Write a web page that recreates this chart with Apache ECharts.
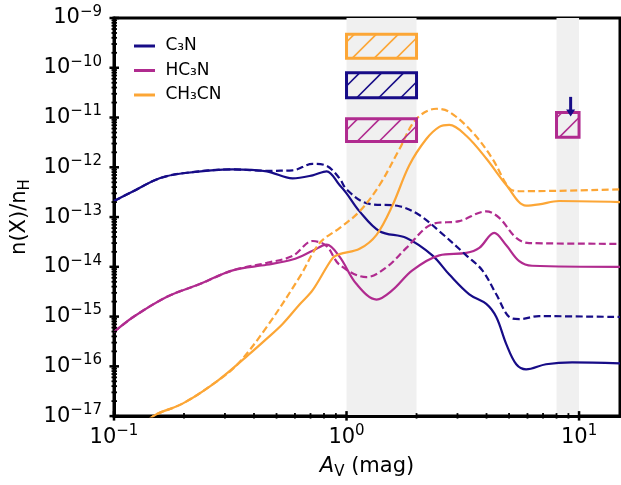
<!DOCTYPE html>
<html>
<head>
<meta charset="utf-8">
<script src="https://cdn.jsdelivr.net/npm/echarts@6/dist/echarts.min.js"></script>
<style>html,body{margin:0;padding:0;background:#fff;}</style>
</head>
<body>
<div id="main" style="width:621px;height:485px;"></div>
<script>
// abundances vs visual extinction, solid = model A, dashed = model B
var c3nAvA = [0.1, 0.121, 0.157, 0.198, 0.324, 0.454, 0.586, 0.715, 0.821, 0.933, 1.0, 1.138, 1.387, 1.81, 2.339, 2.767, 3.373, 3.99, 4.406, 4.864, 5.37, 5.92, 7.21, 9.33, 15];
var c3nA = [2.1e-13, 3.3e-13, 6.0e-13, 7.6e-13, 9.1e-13, 8.3e-13, 6.0e-13, 6.9e-13, 8.3e-13, 4.4e-13, 3.0e-13, 1.3e-13, 5.2e-14, 3.8e-14, 1.7e-14, 7.0e-15, 2.8e-15, 1.8e-15, 9.8e-16, 2.8e-16, 1.1e-16, 8.7e-17, 1.1e-16, 1.2e-16, 1.15e-16];
var c3nAvB = [0.1, 0.121, 0.157, 0.198, 0.324, 0.454, 0.586, 0.715, 0.821, 0.933, 1.0, 1.219, 1.687, 2.056, 2.506, 3.273, 3.837, 4.406, 5.01, 5.53, 6.73, 15];
var c3nB = [2.1e-13, 3.3e-13, 6.0e-13, 7.6e-13, 9.1e-13, 8.5e-13, 8.7e-13, 1.17e-12, 1.07e-12, 6.0e-13, 3.6e-13, 1.9e-13, 1.65e-13, 1.1e-13, 5.2e-14, 1.7e-14, 8.5e-15, 2.8e-15, 9.8e-16, 8.9e-16, 1.02e-15, 9.8e-16];

var hc3nAvA = [0.1, 0.121, 0.169, 0.234, 0.324, 0.454, 0.586, 0.715, 0.821, 0.933, 1.104, 1.346, 1.575, 1.919, 2.506, 3.273, 3.724, 4.315, 4.864, 5.53, 6.28, 15];
var hc3nA = [4.9e-16, 9.8e-16, 2.5e-15, 4.5e-15, 8.5e-15, 1.1e-14, 1.4e-14, 2.1e-14, 2.8e-14, 1.6e-14, 4.5e-15, 2.2e-15, 3.4e-15, 8.5e-15, 1.7e-14, 1.9e-14, 2.4e-14, 4.8e-14, 2.7e-14, 1.3e-14, 1.05e-14, 1.0e-14];
var hc3nAvB = [0.1, 0.121, 0.169, 0.234, 0.324, 0.454, 0.586, 0.715, 0.821, 0.933, 1.219, 1.486, 1.81, 2.339, 3.055, 3.99, 4.54, 5.37, 6.1, 15];
var hc3nB = [4.9e-16, 9.8e-16, 2.5e-15, 4.5e-15, 8.5e-15, 1.2e-14, 1.65e-14, 3.3e-14, 2.6e-14, 1.1e-14, 6.2e-15, 9.8e-15, 2.4e-14, 7.2e-14, 8.3e-14, 1.3e-13, 9.6e-14, 3.8e-14, 3.0e-14, 2.9e-14];

var ch3cnAvA = [0.14, 0.153, 0.198, 0.277, 0.384, 0.454, 0.531, 0.628, 0.715, 0.871, 0.933, 1.138, 1.346, 1.575, 1.862, 2.203, 2.506, 2.767, 3.273, 3.99, 4.864, 5.92, 6.73, 8.2, 15];
var ch3cnA = [8.3e-18, 1.1e-17, 1.8e-17, 5.0e-17, 1.8e-16, 3.6e-16, 7.1e-16, 1.75e-15, 3.4e-15, 1.5e-14, 1.8e-14, 2.3e-14, 4.4e-14, 1.7e-13, 1.1e-12, 3.7e-12, 6.5e-12, 7.1e-12, 4.3e-12, 1.5e-12, 4.4e-13, 1.7e-13, 1.8e-13, 2.1e-13, 2.0e-13];
var ch3cnAvB = [0.14, 0.153, 0.198, 0.277, 0.34, 0.454, 0.628, 0.766, 0.933, 1.138, 1.387, 1.687, 1.995, 2.432, 2.767, 3.475, 4.236, 5.01, 5.53, 15];
var ch3cnB = [8.3e-18, 1.1e-17, 1.8e-17, 5.0e-17, 1.1e-16, 6.2e-16, 6.2e-15, 3.0e-14, 6.0e-14, 1.3e-13, 4.4e-13, 2.3e-12, 9.3e-12, 1.5e-11, 1.3e-11, 5.1e-12, 1.5e-12, 3.8e-13, 3.3e-13, 3.6e-13];

// observed ranges (hatched boxes) and the upper limit arrow
var obsAvLow = [1, 1, 1, 8];
var obsAvHigh = [2, 2, 2, 10];
var obsLow = [1.56e-10, 2.5e-11, 3.3e-12, 4.0e-12];
var obsHigh = [4.7e-10, 7.9e-11, 9.5e-12, 1.26e-11];
var obsSpecies = [2, 0, 1, 1];
var limitAv = [9.2];
var limitFrom = [2.6e-11];
var limitTo = [1.05e-11];

var shadeAvLow = [1, 8];
var shadeAvHigh = [2, 10];

var speciesNames = ['C\u2083N', 'HC\u2083N', 'CH\u2083CN'];
var speciesColors = ['#170c87', '#b02b8f', '#fca636'];

var xTicks = [0.1, 1, 10];
var yTicks = [1e-17, 1e-16, 1e-15, 1e-14, 1e-13, 1e-12, 1e-11, 1e-10, 1e-9];

var xMinor = [];
[0.1, 1].forEach(function (d) { for (var k = 2; k <= 9; k++) xMinor.push(k * d); });
var yMinor = [];
for (var e = -17; e < -9; e++) { for (var k = 2; k <= 9; k++) yMinor.push(k * Math.pow(10, e)); }

var font = 'DejaVu Sans';
function pairs(xs, ys) { return xs.map(function (x, i) { return [x, ys[i]]; }); }
function powLabel(v) {
    var e = Math.round(Math.log10(v));
    return '{b|10}{s|' + (e < 0 ? '\u2212' + (-e) : e) + '}';
}
var tickRich = {
    b: { fontSize: 21, lineHeight: 27, fontFamily: font, color: '#000' },
    s: { fontSize: 15, lineHeight: 15, verticalAlign: 'top', fontFamily: font, color: '#000' }
};

var myChart = echarts.init(document.getElementById('main'));

var xMain = {
    type: 'log', logBase: 10, min: 0.1, max: 15, position: 'bottom',
    axisLine: { show: true, lineStyle: { color: '#000', width: 3 } },
    axisTick: { show: false },
    axisLabel: { customValues: xTicks, formatter: powLabel, margin: 8, rich: tickRich },
    splitLine: { show: false },
    name: '{i|A}{v|V} (mag)', nameLocation: 'middle', nameGap: 33,
    nameTextStyle: { rich: {
        i: { fontSize: 21, fontStyle: 'italic', fontFamily: font, color: '#000', lineHeight: 27 },
        v: { fontSize: 15, fontFamily: font, color: '#000', lineHeight: 15, verticalAlign: 'bottom' }
    }, fontSize: 21, fontFamily: font, color: '#000', lineHeight: 27 }
};
var yMain = {
    type: 'log', logBase: 10, min: 1e-17, max: 1e-9, position: 'left',
    axisLine: { show: true, lineStyle: { color: '#000', width: 3 } },
    axisTick: { show: false },
    axisLabel: { customValues: yTicks, formatter: powLabel, margin: 12, rich: tickRich },
    splitLine: { show: false },
    name: '{n|n(X)/n}{h|H}', nameLocation: 'middle', nameGap: 80, nameRotate: 90,
    nameTextStyle: { rich: {
        n: { fontSize: 21, fontFamily: font, color: '#000', lineHeight: 27 },
        h: { fontSize: 15, fontFamily: font, color: '#000', lineHeight: 15, verticalAlign: 'bottom' }
    } }
};

function lineSeries(name, xs, ys, species, dashed) {
    return {
        type: 'line', name: name, data: pairs(xs, ys),
        symbol: 'none', smooth: 0.35, clip: true, z: dashed ? 4 : 3,
        lineStyle: { color: speciesColors[species], width: 2.2, type: dashed ? [7, 3.5] : 'solid' },
        itemStyle: { color: speciesColors[species] }
    };
}

function renderObs(params, api) {
    var p0 = api.coord([api.value(0), api.value(3)]);
    var p1 = api.coord([api.value(1), api.value(2)]);
    var x0 = p0[0], y0 = p0[1], w = p1[0] - p0[0], h = p1[1] - p0[1];
    var color = speciesColors[obsSpecies[params.dataIndex]];
    var kids = [];
    var step = 22, phase = 14.5;
    var kStart = Math.ceil((x0 + y0 - phase) / step), kEnd = Math.floor((x0 + w + y0 + h - phase) / step);
    for (var k = kStart; k <= kEnd; k++) {
        var K = k * step + phase;
        var xa = Math.max(x0, K - y0 - h), xb = Math.min(x0 + w, K - y0);
        if (xb - xa < 0.5) continue;
        kids.push({ type: 'line', shape: { x1: xa, y1: K - xa, x2: xb, y2: K - xb },
            style: { stroke: color, lineWidth: 1.6 } });
    }
    kids.push({ type: 'rect', shape: { x: x0, y: y0, width: w, height: h },
        style: { fill: null, stroke: color, lineWidth: 3 } });
    return { type: 'group', children: kids };
}

function renderLimit(params, api) {
    var a = api.coord([api.value(0), api.value(1)]);
    var b = api.coord([api.value(0), api.value(2)]);
    var c = speciesColors[0];
    return { type: 'group', children: [
        { type: 'line', shape: { x1: a[0], y1: a[1], x2: b[0], y2: b[1] - 6 }, style: { stroke: c, lineWidth: 3 } },
        { type: 'polygon', shape: { points: [[b[0] - 4.5, b[1] - 7], [b[0] + 4.5, b[1] - 7], [b[0], b[1]]] }, style: { fill: c } }
    ] };
}

var series = [
    {
        type: 'custom', name: 'shade', z: 0, silent: true,
        data: pairs(shadeAvLow, shadeAvHigh),
        renderItem: function (params, api) {
            var a = api.coord([api.value(0), 1e-9]);
            var b = api.coord([api.value(1), 1e-17]);
            return { type: 'rect', shape: { x: a[0], y: a[1], width: b[0] - a[0], height: b[1] - a[1] },
                style: { fill: '#f0f0f0' } };
        }
    },
    lineSeries(speciesNames[0], c3nAvA, c3nA, 0, false),
    lineSeries(speciesNames[1], hc3nAvA, hc3nA, 1, false),
    lineSeries(speciesNames[2], ch3cnAvA, ch3cnA, 2, false),
    lineSeries(speciesNames[0] + ' B', c3nAvB, c3nB, 0, true),
    lineSeries(speciesNames[1] + ' B', hc3nAvB, hc3nB, 1, true),
    lineSeries(speciesNames[2] + ' B', ch3cnAvB, ch3cnB, 2, true),
    {
        type: 'custom', name: 'obs', z: 5, silent: true,
        data: obsAvLow.map(function (v, i) { return [v, obsAvHigh[i], obsLow[i], obsHigh[i]]; }),
        renderItem: renderObs
    },
    {
        type: 'custom', name: 'limit', z: 6, silent: true,
        data: limitAv.map(function (v, i) { return [v, limitFrom[i], limitTo[i]]; }),
        renderItem: renderLimit
    }
];

var option = {
    animation: false,
    backgroundColor: '#fff',
    grid: { left: 114, right: 1, top: 18, bottom: 65, show: true, borderColor: '#000', borderWidth: 3, backgroundColor: 'transparent' },
    legend: {
        orient: 'vertical', left: 129, top: 32, itemWidth: 21, itemHeight: 3, itemGap: 6.5, icon: 'rect',
        data: speciesNames,
        formatter: function (name) { return ' ' + name; },
        textStyle: { fontSize: 17, color: '#000', fontFamily: font, lineHeight: 18 }
    },
    xAxis: xMain,
    yAxis: yMain,
    series: series
};
myChart.setOption(option);

// tick marks through the axes' own scale (in-out, like the spines in the figure)
var tickGraphics = [];
function addTick(x, y, isX, major) {
    var p = myChart.convertToPixel({ gridIndex: 0 }, [x, y]);
    if (!p) return;
    var inner = major ? 5 : 3, outer = major ? 4.5 : 2.5;
    var shape = isX
        ? { x1: p[0], y1: p[1] - inner, x2: p[0], y2: p[1] + outer }
        : { x1: p[0] - outer, y1: p[1], x2: p[0] + inner, y2: p[1] };
    tickGraphics.push({ type: 'line', silent: true, z: 100, shape: shape,
        style: { stroke: '#000', lineWidth: major ? 2.5 : 1.8 } });
}
xTicks.forEach(function (v) { addTick(v, 1e-17, true, true); });
xMinor.forEach(function (v) { addTick(v, 1e-17, true, false); });
yTicks.forEach(function (v) { addTick(0.1, v, false, true); });
yMinor.forEach(function (v) { addTick(0.1, v, false, false); });
myChart.setOption({ graphic: tickGraphics });
</script>
</body>
</html>
